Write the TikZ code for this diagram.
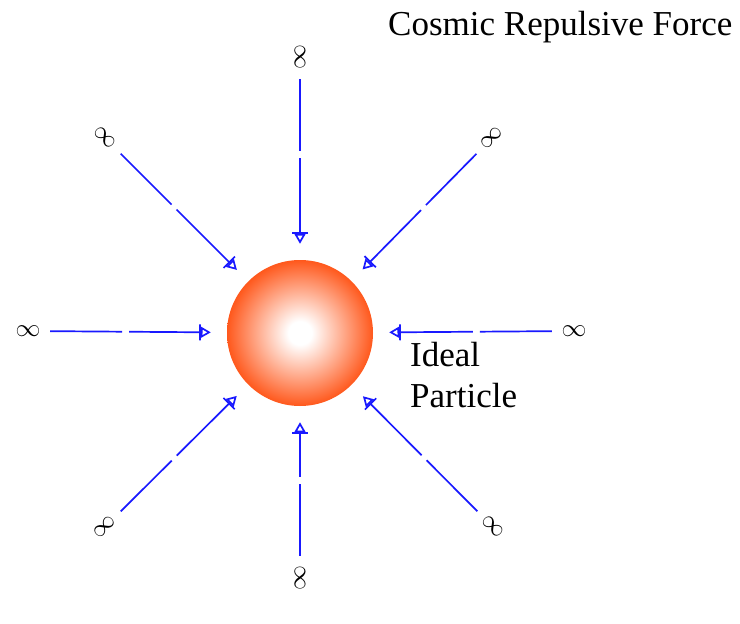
\documentclass[tikz,border=0pt]{standalone}
\usepackage{fontspec}
\setmainfont{Liberation Serif}
\usepackage{xcolor}
\usetikzlibrary{arrows.meta,positioning}
\definecolor{partorange}{RGB}{255,88,28}
\definecolor{forceblue}{RGB}{25,25,255}
\pgfdeclareradialshading{particleglow}{\pgfpoint{0bp}{0bp}}{%
  color(0bp)=(white); color(4bp)=(white);
  color(25bp)=(partorange); color(50bp)=(partorange)}

\begin{document}
\begin{tikzpicture}[
      x=1pt, y=-1pt,
      inf/.style   = {circle, inner sep=0pt, minimum size=44pt,
                      font=\fontsize{28}{28}\selectfont},
      txt/.style   = {inner sep=0pt, font=\fontsize{35}{41}\selectfont},
      arrow/.style = {-{Bar[width=16pt,sep=0pt]Triangle[open,length=10pt,width=11pt,sep=0pt]},
                      forceblue, line width=1.7pt,
                      dash pattern=on 72pt off 7pt on 300pt,
                      shorten >=16pt}
    ]
    \useasboundingbox (0,0) rectangle (740,624);

    \node (ball) [circle, minimum size=146pt, inner sep=0pt,
                  shading=particleglow] at (300,333) {};

    \node (infN)  [inf, rotate=90]  at (300,57)  {$\infty$};
    \node (infS)  [inf, rotate=90]  at (300,578) {$\infty$};
    \node (infW)  [inf]             at (28,331)  {$\infty$};
    \node (infE)  [inf]             at (574,331) {$\infty$};
    \node (infNW) [inf, rotate=-45] at (105,138) {$\infty$};
    \node (infNE) [inf, rotate=45]  at (492,138) {$\infty$};
    \node (infSW) [inf, rotate=45]  at (105,527) {$\infty$};
    \node (infSE) [inf, rotate=-45] at (493,527) {$\infty$};

    \node (title) [txt, anchor=base west] at (388,35) {Cosmic Repulsive Force};
    \node (name)  [txt, anchor=north west, align=left] at (410,342) {Ideal\\Particle};

    \draw[arrow] (infN)  -- (ball);
    \draw[arrow] (infS)  -- (ball);
    \draw[arrow] (infW)  -- (ball);
    \draw[arrow] (infE)  -- (ball);
    \draw[arrow] (infNW) -- (ball);
    \draw[arrow] (infNE) -- (ball);
    \draw[arrow] (infSW) -- (ball);
    \draw[arrow] (infSE) -- (ball);
  \end{tikzpicture}
\end{document}
